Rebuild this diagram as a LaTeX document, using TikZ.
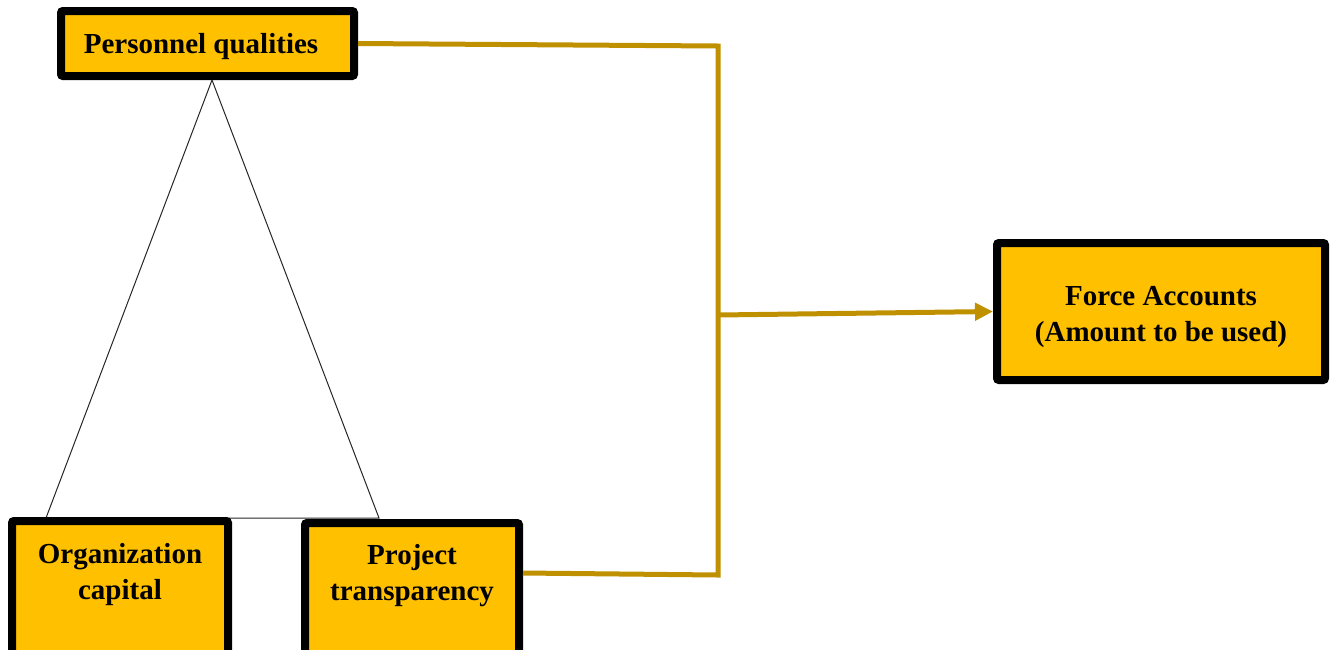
\documentclass[tikz,border=0pt]{standalone}
\usepackage{fontspec}
\setmainfont{Liberation Serif}
\usetikzlibrary{arrows.meta,calc}
\definecolor{boxfill}{HTML}{FFC000}
\definecolor{linkgold}{HTML}{BF9000}
\tikzset{
  factor/.style={draw=black, line width=8pt, fill=boxfill, rounded corners=2pt,
    inner sep=0pt},
  caption/.style={align=center, inner sep=0pt,
    font=\fontsize{29}{36}\selectfont\bfseries},
  link/.style={draw=linkgold, line width=5pt},
  thin edge/.style={draw=black!85, line width=1pt}
}
\begin{document}
\begin{tikzpicture}[x=1pt,y=-1pt]
\useasboundingbox (0,0) rectangle (1330,649);
\clip (0,0) rectangle (1330,649);

% triangle linking the three factors (drawn first, boxes cover its ends)
\coordinate (tri-top) at (212,80);
\coordinate (tri-left) at (46,518);
\coordinate (tri-right) at (379,518);
\draw[thin edge] (tri-left) -- (tri-top) -- (tri-right) -- cycle;

% factor boxes
\node[factor, minimum width=293pt, minimum height=65pt] (pq) at (207.5,43.5) {};
\node[caption] (pq-text) at (201,47) {Personnel qualities};

\node[factor, minimum width=216pt, minimum height=179pt] (oc) at (120,610.5) {};
\node[caption] (oc-text) at (120,574.5) {Organization\\capital};

\node[factor, minimum width=214pt, minimum height=177pt] (pt) at (412,611.5) {};
\node[caption] (pt-text) at (412,575.5) {Project\\transparency};

\node[factor, minimum width=328pt, minimum height=137pt] (fa) at (1161,311.5) {};
\node[caption] (fa-text) at (1161,317) {Force Accounts\\(Amount to be used)};

% gold bracket collecting the inputs
\coordinate (j-top) at (718,46);
\coordinate (j-bot) at (718,575);
\coordinate (j-mid) at (718,315);
\draw[link, line join=miter] (pq.east) -- (j-top) -- (j-bot) -- (pt.east |- 0,573);
\draw[link, -{Triangle[length=18pt,width=17pt]}] (j-mid) -- (fa.west);
\end{tikzpicture}
\end{document}
